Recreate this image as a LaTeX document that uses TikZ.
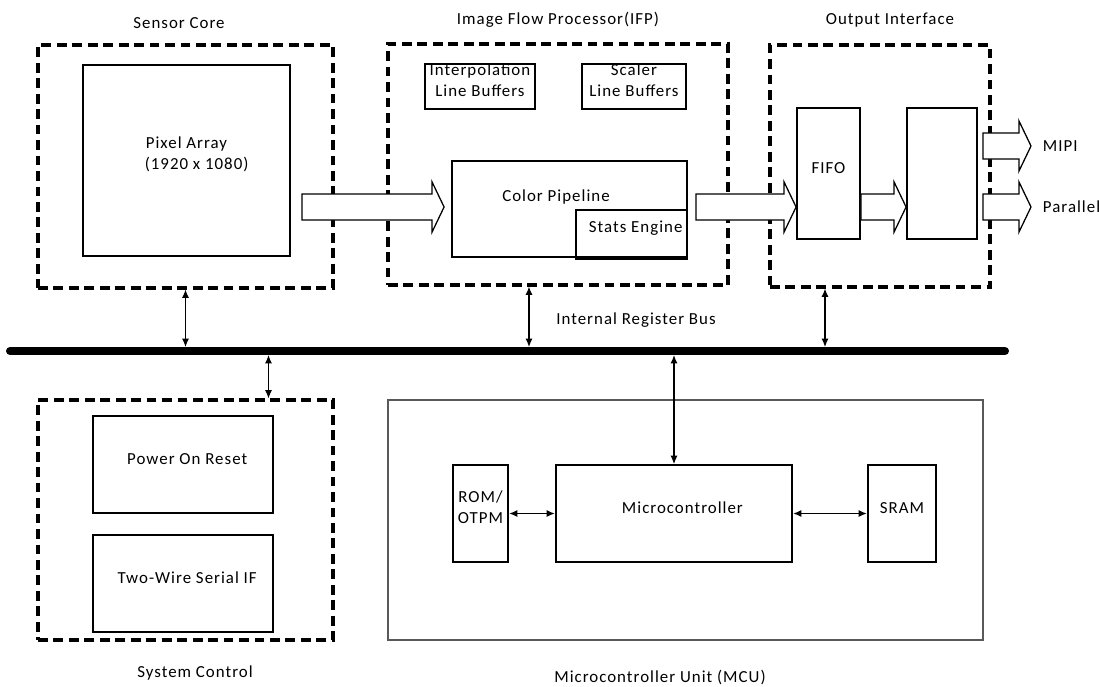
\documentclass[tikz,border=0pt]{standalone}
\usepackage{fontspec}
\setmainfont{Carlito}[LetterSpace=6]
\usetikzlibrary{calc,positioning,fit,arrows.meta}

\tikzset{
  blk/.style={draw, line width=1.3pt, inner sep=0pt, align=center},
  grp/.style={draw, line width=2.2pt, dash pattern=on 7pt off 4pt, inner sep=0pt},
  mcu/.style={draw=black!65, line width=1pt, inner sep=0pt},
  fat/.style={draw, line width=0.9pt, fill=white, line join=miter},
  link/.style={{Latex[length=6pt,width=5pt]}-{Latex[length=6pt,width=5pt]}, line width=0.8pt},
  bus/.style={line width=5.7pt, line cap=round}
}

% hollow block arrow from #1 to the tip #2 (same height)
\newcommand{\fatarrow}[2]{%
  \draw[fat] ($(#1)+(0,-13)$) -- ($(#2)+(-12,-13)$) -- ($(#2)+(-12,-25)$)
    -- (#2) -- ($(#2)+(-12,25)$) -- ($(#2)+(-12,13)$) -- ($(#1)+(0,13)$) -- cycle;}

\begin{document}
\begin{tikzpicture}[x=0.025cm, y=-0.025cm, font=\fontsize{12}{15}\selectfont]
\useasboundingbox (0,0) rectangle (1099,686);

% groups
\node[grp, fit={(38,45) (333,288)}] (sc) {};
\node[grp, fit={(388,44) (728,285)}] (ifp) {};
\node[grp, fit={(770,45) (990,287)}] (oi) {};
\node[grp, fit={(38,400) (333,640)}] (syc) {};
\node[mcu, fit={(388,400) (983,640)}] (mcu) {};

\node (sclab) at (179,23) {Sensor Core};
\node (ifplab) at (558,20) {Image Flow Processor(IFP)};
\node (oilab) at (890,20) {Output Interface};
\node (syclab) at (195,673) {System Control};
\node (mculab) at (660,677) {Microcontroller Unit (MCU)};

% sensor core
\node[blk, fit={(83,65) (290,256)}] (pix) {Pixel Array\\ \hspace{1.2em}(1920 x 1080)};

% image flow processor
\node[blk, fit={(425,64) (535,109)}] (ilb) {Interpolation\\Line Buffers};
\node[blk, fit={(582,64) (686,109)}] (slb) {Scaler\\Line Buffers};
\node[blk, fit={(452,161) (687,257)}] (cp) {};
\node (cplab) at (556,197) {Color Pipeline};
\node[blk, fit={(576,210) (687,257)}] (se) {\hspace{0.5em}Stats Engine};
\draw[line width=2.4pt] (se.south west) -- (se.south east);

% output interface
\node[blk, fit={(797,108) (860,239)}] (fifo) {FIFO};
\node[blk, fit={(907,108) (977,239)}] (ser) {};
\node[anchor=west] (mipi) at (1038,146) {MIPI};
\node[anchor=west] (par) at (1038,207) {Parallel};

% system control
\node[blk, fit={(93,416) (273,513)}] (por) {\hspace{0.5em}Power On Reset};
\node[blk, fit={(93,535) (273,632)}] (tw) {\hspace{0.5em}Two-Wire Serial IF};

% microcontroller unit
\node[blk, fit={(453,465) (508,562)}] (rom) {ROM/\\OTPM};
\node[blk, fit={(556,465) (792,562)}] (mc) {\hspace{1em}Microcontroller};
\node[blk, fit={(868,465) (936,562)}] (sram) {SRAM\\[1.6ex]};

% data path
\coordinate (a1s) at ($(pix.east |- cp.west)+(11,-2)$);
\coordinate (a1t) at ($(cp.west)+(-7,-2)$);
\coordinate (a2s) at ($(cp.east)+(8,-2)$);
\coordinate (a2t) at (fifo.west |- a2s);
\coordinate (a3s) at (fifo.east |- a2s);
\coordinate (a3t) at (ser.west |- a2s);
\coordinate (a4s) at ($(ser.east |- mipi)+(5,0)$);
\coordinate (a4t) at ($(mipi.west)+(-7,0)$);
\coordinate (a5s) at ($(ser.east |- par)+(5,0)$);
\coordinate (a5t) at ($(par.west)+(-7,0)$);
\fatarrow{a1s}{a1t}
\fatarrow{a2s}{a2t}
\fatarrow{a3s}{a3t}
\fatarrow{a4s}{a4t}
\fatarrow{a5s}{a5t}

% internal register bus
\coordinate (busl) at (10,351);
\coordinate (busr) at (1005,351);
\coordinate (bt) at (0,347);
\coordinate (bb) at (0,355);
\draw[bus] (busl) -- (busr);
\node (buslab) at (636,320) {Internal Register Bus};

\coordinate (ifpb) at ($(ifp.south)+(-29,0)$);
\coordinate (oib) at ($(oi.south)+(-55,0)$);
\coordinate (sycb) at ($(syc.north)+(83,0)$);
\draw[link] (sc.south) -- (sc.south |- bt);
\draw[link] (ifpb) -- (ifpb |- bt);
\draw[link] (oib) -- (oib |- bt);
\draw[link] (sycb |- bb) -- (sycb);
\draw[link] (mc.north |- bb) -- (mc.north);

\draw[link, line width=1.2pt] (rom.east) -- (mc.west);
\draw[link, line width=1.2pt] (mc.east) -- (sram.west);

\end{tikzpicture}
\end{document}
